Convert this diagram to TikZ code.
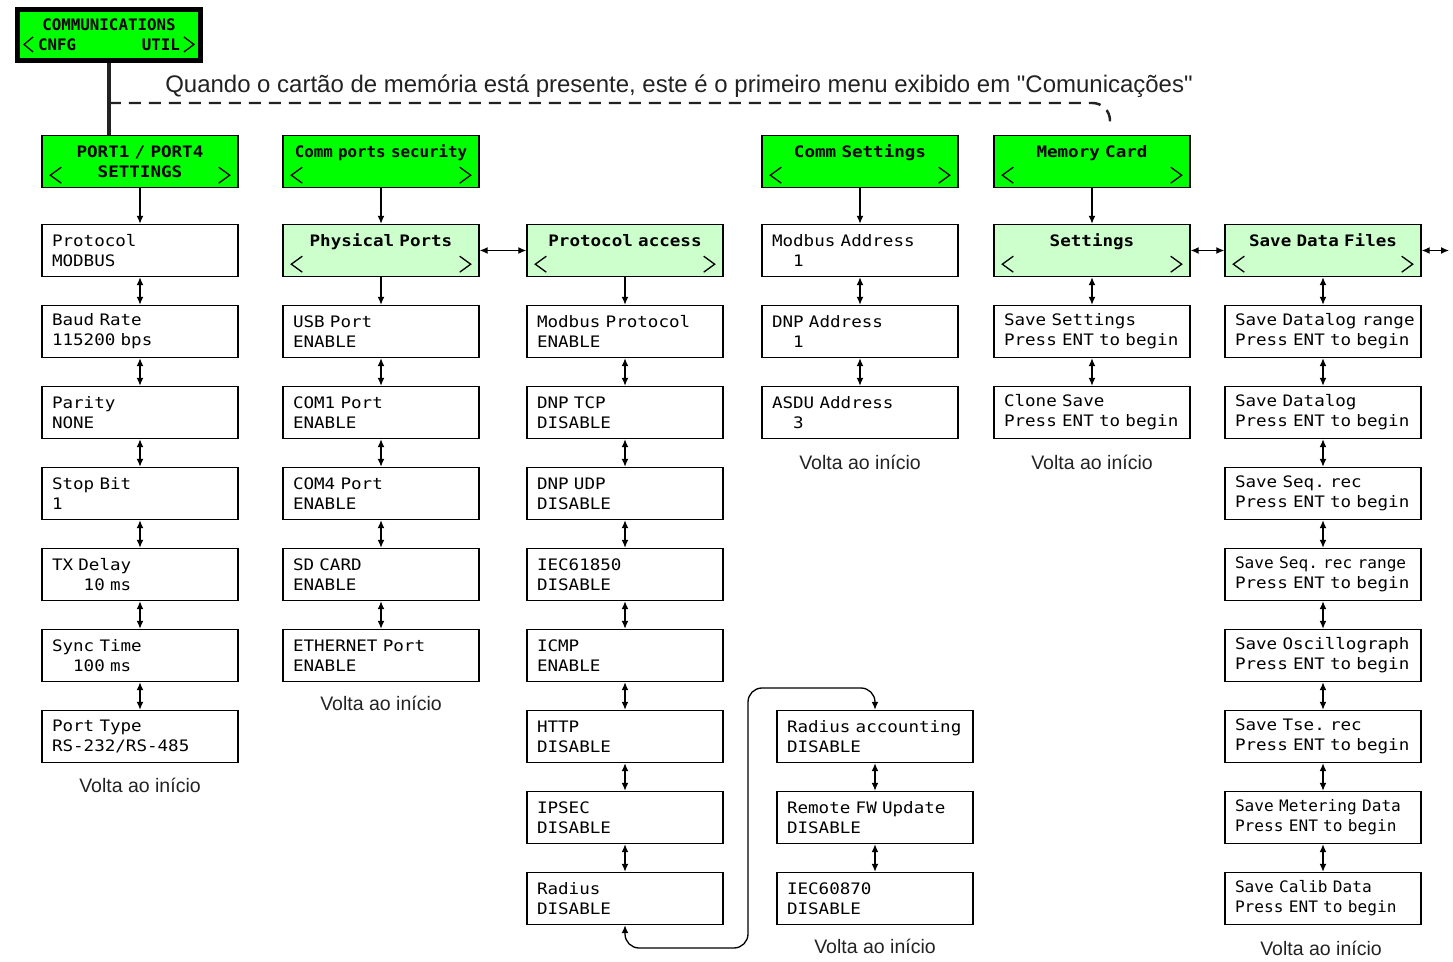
\documentclass[tikz,border=0pt]{standalone}
\usepackage{fontspec}
\setmainfont[Ligatures=TeXOff]{Liberation Sans}
\setmonofont[FakeStretch=1.11]{DejaVu Sans Mono}
\newfontfamily\plainmono{DejaVu Sans Mono}
\newfontfamily\narrowmono[FakeStretch=1.02]{DejaVu Sans Mono}
\usetikzlibrary{arrows.meta, positioning, calc}

\definecolor{lcdgreen}{HTML}{00FF00}
\definecolor{palegreen}{HTML}{CCFFCC}
\definecolor{ink}{HTML}{222222}

\tikzset{
  item/.style={draw, line width=0.8pt, fill=white, text width=3.52cm, inner xsep=0.2cm,
    minimum height=1.04cm, align=left, font=\ttfamily\fontsize{9}{11.4}\selectfont},
  menuhdr/.style={draw, line width=0.8pt, fill=lcdgreen, text width=3.72cm, inner xsep=0.1cm,
    minimum height=1.04cm, align=center, font=\ttfamily\bfseries\fontsize{9}{11.4}\selectfont},
  subhdr/.style={menuhdr, fill=palegreen},
  link/.style={-{Latex[length=1.6mm,width=1.4mm]}, line width=0.75pt},
  dlink/.style={{Latex[length=1.6mm,width=1.4mm]}-{Latex[length=1.6mm,width=1.4mm]}, line width=0.75pt},
  chev/.style={line width=0.75pt},
  back/.style={font=\fontsize{11.1}{13}\selectfont, text=ink},
}

% < and > marks at the bottom of a menu header
\newcommand\chevs[1]{%
  \draw[chev] ($(#1.south west)+(20,-21)$) -- ++(-11,8) -- ++(11,8);
  \draw[chev] ($(#1.south east)+(-20,-21)$) -- ++(11,8) -- ++(-11,8);
}

\begin{document}
\begin{tikzpicture}[x=0.02cm, y=-0.02cm]
    \useasboundingbox (0,0) rectangle (1453,962);

    % Top menu
    \node[draw, line width=2.8pt, fill=lcdgreen, minimum width=3.66cm, minimum height=1.02cm,
      text width=2.84cm, align=center, inner sep=0pt,
      font=\plainmono\bfseries\fontsize{9}{11.4}\selectfont] (comm) at (109,35)
      {COMMUNICATIONS\\CNFG\hfill UTIL};
    \draw[chev] ($(comm.south west)+(18,-26)$) -- ++(-9,7.5) -- ++(9,7.5);
    \draw[chev] ($(comm.south east)+(-19,-26)$) -- ++(10,7.5) -- ++(-10,7.5);

    \node[font=\fontsize{13.65}{16}\selectfont, text=ink] (note) at (679,86)
      {Quando o cartão de memória está presente, este é o primeiro menu exibido em "Comunicações"};

    % Menu headers
    \node[menuhdr] (port) at (140,161.5) {PORT1 / PORT4\\SETTINGS};
    \node[menuhdr, font=\plainmono\bfseries\fontsize{9}{11.4}\selectfont] (cps) at (381,161.5)
      {Comm ports security\\~};
    \node[menuhdr] (cs) at (860,161.5) {Comm Settings\\~};
    \node[menuhdr] (mem) at (1092,161.5) {Memory Card\\~};
    \node[subhdr] (phys) at (381,250.5) {Physical Ports\\~};
    \node[subhdr] (pa) at (625,250.5) {Protocol access\\~};
    \node[subhdr] (set) at (1092,250.5) {Settings\\~};
    \node[subhdr] (sdf) at (1323,250.5) {Save Data Files\\~};
    \foreach \n in {port, cps, cs, mem, phys, pa, set, sdf} {
        \chevs{\n}
    }

    % Stem and the memory card remark
    \draw[line width=2.3pt, ink] (comm) -- (comm |- port.north);
    \coordinate (dstart) at (109,103);
    \coordinate (memtip) at (1110,126);
    \draw[line width=1.4pt, ink, dash pattern=on 0.24cm off 0.16cm, rounded corners=10]
      (dstart) -| (memtip);

    % PORT1 / PORT4 settings
    \foreach \a/\b [count=\i] in {Protocol/MODBUS, Baud Rate/115200 bps, Parity/NONE, Stop Bit/1,
        TX Delay/{\hphantom{xxx}10 ms}, Sync Time/{\hphantom{xx}100 ms}, Port Type/{RS-232/RS-485}} {
        \pgfmathsetmacro\y{250.5 + (\i-1)*81}
        \node[item] (ps-\i) at (140,\y) {\mbox{\a}\\\mbox{\b}};
    }
    \foreach \i [remember=\i as \j (initially 1)] in {2,...,7}
        \draw[dlink] (ps-\j) -- (ps-\i);
    \draw[link] (port) -- (ps-1);
    \node[back] (back1) at (140,785) {Volta ao início};

    % Physical ports
    \foreach \a [count=\i] in {USB Port, COM1 Port, COM4 Port, SD CARD, ETHERNET Port} {
        \pgfmathsetmacro\y{331.5 + (\i-1)*81}
        \node[item] (cp-\i) at (381,\y) {\mbox{\a}\\ENABLE};
    }
    \foreach \i [remember=\i as \j (initially 1)] in {2,...,5}
        \draw[dlink] (cp-\j) -- (cp-\i);
    \draw[link] (cps) -- (phys);
    \draw[link] (phys) -- (cp-1);
    \draw[dlink] (phys) -- (pa);
    \node[back] (back2) at (381,703) {Volta ao início};

    % Protocol access
    \foreach \a/\b [count=\i] in {Modbus Protocol/ENABLE, DNP TCP/DISABLE, DNP UDP/DISABLE,
        IEC61850/DISABLE, ICMP/ENABLE, HTTP/DISABLE, IPSEC/DISABLE, Radius/DISABLE} {
        \pgfmathsetmacro\y{331.5 + (\i-1)*81}
        \node[item] (pr-\i) at (625,\y) {\mbox{\a}\\\b};
    }
    \foreach \i [remember=\i as \j (initially 1)] in {2,...,8}
        \draw[dlink] (pr-\j) -- (pr-\i);
    \draw[link] (pa) -- (pr-1);

    \foreach \a [count=\i] in {Radius accounting, Remote FW Update, IEC60870} {
        \pgfmathsetmacro\y{736.5 + (\i-1)*81}
        \node[item] (rx-\i) at (875,\y) {\mbox{\a}\\DISABLE};
    }
    \foreach \i [remember=\i as \j (initially 1)] in {2,3}
        \draw[dlink] (rx-\j) -- (rx-\i);
    \coordinate (loopa) at (748,948);
    \coordinate (loopb) at (748,688);
    \draw[dlink, rounded corners=8] (pr-8.south) |- (loopa) -- (loopb) -| (rx-1.north);
    \node[back] (back3) at (875,946) {Volta ao início};

    % Comm settings
    \foreach \a/\b [count=\i] in {Modbus Address/{\hphantom{xx}1}, DNP Address/{\hphantom{xx}1},
        ASDU Address/{\hphantom{xx}3}} {
        \pgfmathsetmacro\y{250.5 + (\i-1)*81}
        \node[item] (ad-\i) at (860,\y) {\mbox{\a}\\\mbox{\b}};
    }
    \foreach \i [remember=\i as \j (initially 1)] in {2,3}
        \draw[dlink] (ad-\j) -- (ad-\i);
    \draw[link] (cs) -- (ad-1);
    \node[back] (back4) at (860,462) {Volta ao início};

    % Memory card
    \node[item] (ss-1) at (1092,331.5) {Save Settings\\\mbox{Press ENT to begin}};
    \node[item] (ss-2) at (1092,412.5) {Clone Save\\\mbox{Press ENT to begin}};
    \draw[link] (mem) -- (set);
    \draw[dlink] (set) -- (ss-1);
    \draw[dlink] (ss-1) -- (ss-2);
    \draw[dlink] (set) -- (sdf);
    \node[back] (back5) at (1092,462) {Volta ao início};

    % Save data files
    \foreach \a/\b [count=\i] in {Save Datalog range/Press ENT to begin, Save Datalog/Press ENT to begin,
        Save Seq.\ rec/Press ENT to begin, {\narrowmono Save Seq.\ rec range}/Press ENT to begin,
        Save Oscillograph/Press ENT to begin, Save Tse.\ rec/Press ENT to begin,
        {\narrowmono Save Metering Data}/{\narrowmono Press ENT to begin},
        {\narrowmono Save Calib Data}/{\narrowmono Press ENT to begin}} {
        \pgfmathsetmacro\y{331.5 + (\i-1)*81}
        \node[item] (df-\i) at (1323,\y) {\mbox{\a}\\\mbox{\b}};
    }
    \foreach \i [remember=\i as \j (initially 1)] in {2,...,8}
        \draw[dlink] (df-\j) -- (df-\i);
    \draw[dlink] (sdf) -- (df-1);
    \coordinate (sdfout) at (1449,250.5);
    \draw[dlink] (sdf) -- (sdfout);
    \node[back] (back6) at (1321,948) {Volta ao início};
\end{tikzpicture}
\end{document}
